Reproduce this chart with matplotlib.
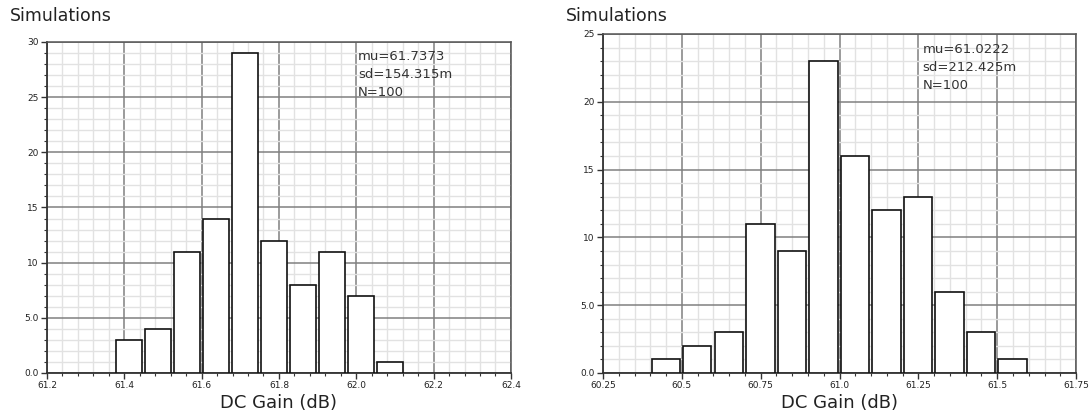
import numpy as np
import matplotlib
matplotlib.use("Agg")
import matplotlib.pyplot as plt
from matplotlib.ticker import MultipleLocator

# left histogram: DC gain, bins of 0.075 dB
left_edges = [61.375, 61.45, 61.525, 61.6, 61.675, 61.75, 61.825, 61.9, 61.975, 62.05]
left_counts = [3, 4, 11, 14, 29, 12, 8, 11, 7, 1]
left_stats = ["mu=61.7373", "sd=154.315m", "N=100"]
left_xticks = [61.2, 61.4, 61.6, 61.8, 62.0, 62.2, 62.4]
left_xlabels = ["61.2", "61.4", "61.6", "61.8", "62.0", "62.2", "62.4"]
left_yticks = [0, 5, 10, 15, 20, 25, 30]
left_ylabels = ["0.0", "5.0", "10", "15", "20", "25", "30"]

# right histogram: DC gain, bins of 0.1 dB
right_edges = [60.4, 60.5, 60.6, 60.7, 60.8, 60.9, 61.0, 61.1, 61.2, 61.3, 61.4, 61.5]
right_counts = [1, 2, 3, 11, 9, 23, 16, 12, 13, 6, 3, 1]
right_stats = ["mu=61.0222", "sd=212.425m", "N=100"]
right_xticks = [60.25, 60.5, 60.75, 61.0, 61.25, 61.5, 61.75]
right_xlabels = ["60.25", "60.5", "60.75", "61.0", "61.25", "61.5", "61.75"]
right_yticks = [0, 5, 10, 15, 20, 25]
right_ylabels = ["0.0", "5.0", "10", "15", "20", "25"]

fig = plt.figure(figsize=(10.92, 4.19), dpi=100)
plt.rcParams['font.family'] = ['DejaVu Sans']


def panel(rect, edges, counts, bw, xlim, xmaj, xmin, xticks, xlabels,
          ylim, yticks, ylabels, stats, stat_x, title_x):
    ax = fig.add_axes(rect)
    edges = np.array(edges)
    ax.bar(edges + 0.04 * bw, counts, width=0.9 * bw, align='edge',
           facecolor='white', edgecolor='#111111', linewidth=1.2, zorder=3)
    ax.set_xlim(*xlim)
    ax.set_ylim(*ylim)
    ax.xaxis.set_major_locator(MultipleLocator(xmaj))
    ax.xaxis.set_minor_locator(MultipleLocator(xmin))
    ax.yaxis.set_major_locator(MultipleLocator(5))
    ax.yaxis.set_minor_locator(MultipleLocator(1))
    ax.set_xticks(xticks)
    ax.set_xticklabels(xlabels)
    ax.set_yticks(yticks)
    ax.set_yticklabels(ylabels)
    ax.grid(which='minor', color='#e2e2e2', linewidth=1.0, zorder=0)
    ax.grid(which='major', color='#808080', linewidth=1.1, zorder=1)
    ax.set_axisbelow(True)
    ax.tick_params(which='major', length=4, width=1, color='#333333',
                   labelsize=6.5, pad=2, labelcolor='#222222')
    ax.tick_params(which='minor', length=2.5, width=0.8, color='#333333')
    for s in ['left', 'bottom']:
        ax.spines[s].set_color('#333333')
        ax.spines[s].set_linewidth(1.3)
    for s in ['top', 'right']:
        ax.spines[s].set_color('#555555')
        ax.spines[s].set_linewidth(1.1)
    ax.set_xlabel("DC Gain (dB)", fontsize=13, color='#222222', labelpad=3)
    for i, s in enumerate(stats):
        ax.text(stat_x, 0.955 - i * 0.054, s, transform=ax.transAxes,
                fontsize=9.5, color='#333333', va='center', ha='left')
    fig.text(title_x, 0.962, "Simulations", fontsize=12.5, color='#222222',
             va='center', ha='left')
    return ax


panel([0.0430, 0.1098, 0.4249, 0.7900], left_edges, left_counts, 0.075,
      (61.2, 62.4), 0.2, 0.04, left_xticks, left_xlabels,
      (0, 30), left_yticks, left_ylabels, left_stats, 0.67, 0.009)
panel([0.5522, 0.1098, 0.4332, 0.8091], right_edges, right_counts, 0.1,
      (60.25, 61.75), 0.25, 0.05, right_xticks, right_xlabels,
      (0, 25), right_yticks, right_ylabels, right_stats, 0.675, 0.518)

fig.savefig("out.png", dpi=100)
